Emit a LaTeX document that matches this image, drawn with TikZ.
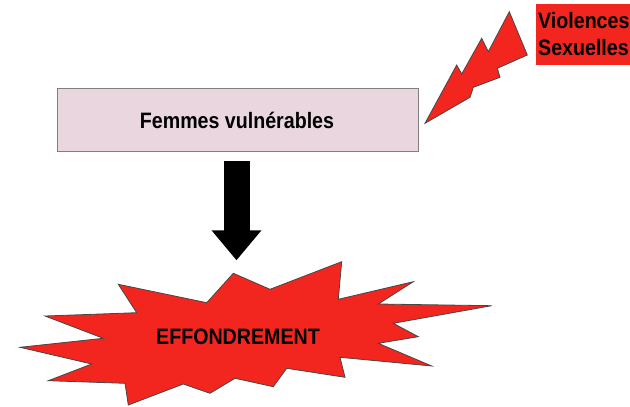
\documentclass[tikz,border=0pt]{standalone}
\usepackage{fontspec}
\setmainfont{Liberation Sans}[FakeStretch=0.88]
\usetikzlibrary{arrows.meta,calc}
\definecolor{boomred}{RGB}{242,38,30}
\definecolor{boxpink}{RGB}{233,214,222}
\definecolor{edgegray}{RGB}{70,70,70}
\tikzset{
  shapeline/.style={draw=edgegray,line width=0.8pt,line join=miter},
  lbl/.style={font=\bfseries\fontsize{22.3}{26}\selectfont,inner sep=0pt,anchor=base},
  bigarrow/.style={line width=26pt,-{Triangle[width=48pt,length=30pt]}}
}
\begin{document}
\begin{tikzpicture}[x=1pt,y=-1pt]
\useasboundingbox (0,0) rectangle (630,407);
% Violences box
\fill[boomred] (536,4) rectangle (630,65);
\node[lbl,anchor=base west] (viol) at (538,28) {Violences};
\node[lbl,anchor=base west] (sex) at (538,55) {Sexuelles};
% main box
\node[draw=gray,line width=0.8pt,fill=boxpink,minimum width=361pt,minimum height=63pt,inner sep=0pt] (box) at (237.5,119.5) {};
\node[lbl] (femmes) at (237,128) {Femmes vulnérables};
% lightning
\draw[shapeline,fill=boomred] (425,123.3) -- (456.7,65) -- (461.7,74) -- (481.7,38.3) -- (488.3,51.7) -- (509.3,11.7) -- (527.3,55) -- (497.3,68.3) -- (500,77.3) -- (473.3,87.3) -- (470,97.3) -- cycle;
% explosion
\draw[shapeline,fill=boomred] (233.3,273.3) -- (270,289.3) -- (341.7,261.7) -- (338.3,299.3) -- (413.3,281.7) -- (378.3,304) -- (491.7,305.7) -- (393.3,323.3) -- (418.3,336.7) -- (378.3,343.3) -- (431.7,366) -- (340,357.3) -- (345,377.3) -- (286.7,368.3) -- (273.3,386.7) -- (235,378.3) -- (210,393.3) -- (183.3,384) -- (128.3,405) -- (125,383.3) -- (48.3,380.7) -- (91.7,364) -- (20,347.3) -- (103.3,338.3) -- (45,316) -- (136.7,312.7) -- (118.3,284.3) -- (206.7,302.7) -- cycle;
\node[lbl] (eff) at (238,344) {EFFONDREMENT};
\coordinate (boom) at (236.5,273.3);
% arrow
\draw[bigarrow] ($(box.south)+(-1,10)$) -- ($(boom)+(0,-13)$);
\end{tikzpicture}
\end{document}
